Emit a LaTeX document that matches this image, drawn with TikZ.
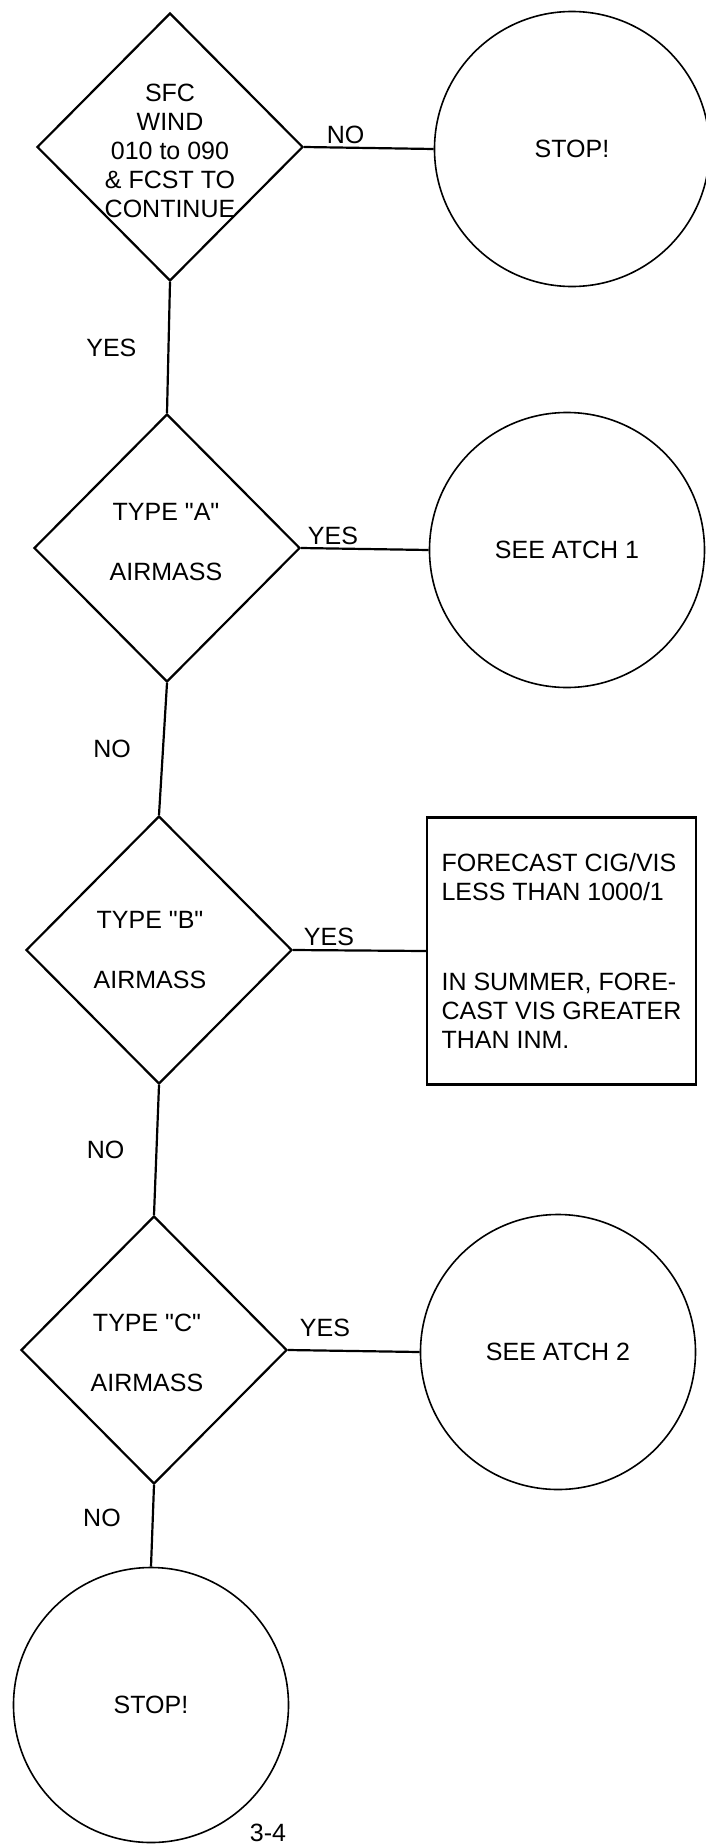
\documentclass[tikz,border=0pt]{standalone}
\usepackage{fontspec}
\setmainfont{Liberation Sans}
\usetikzlibrary{shapes.geometric}

\newcommand{\dq}{\textquotedbl}

\begin{document}
\begin{tikzpicture}[
    x=1pt, y=-1pt,
    font=\fontsize{25}{29}\selectfont,
    % Decision diamonds
    decision/.style={diamond, draw, line width=2.2pt, minimum width=266pt, minimum height=268pt, inner sep=0pt},
    % Terminal circles
    terminal/.style={circle, draw, line width=1.6pt, minimum size=275pt, inner sep=0pt},
    % Action box
    action/.style={rectangle, draw, line width=2.2pt, minimum width=269pt, minimum height=267pt, align=left, inner sep=0pt},
    % Text inside the diamonds
    question/.style={align=center, inner sep=0pt},
    % Connectors and their labels
    flow/.style={line width=2.2pt},
    answer/.style={inner sep=1pt},
]

\useasboundingbox (0,0) rectangle (706,1844);

% === DECISIONS ===
\node[decision] (q1) at (170,147) {};
\node[question] (q1-text) at (170,151) {SFC\\WIND\\010 to 090\\\& FCST TO\\CONTINUE};

\node[decision] (q2) at (167,548) {};
\node[question] (q2-text) at (166,542) {TYPE \dq A\dq\\[31pt]AIRMASS};

\node[decision] (q3) at (159,950) {};
\node[question] (q3-text) at (150,950) {TYPE \dq B\dq\\[31pt]AIRMASS};

\node[decision] (q4) at (154,1350) {};
\node[question] (q4-text) at (147,1353) {TYPE \dq C\dq\\[31pt]AIRMASS};

% === OUTCOMES ===
\node[terminal] (stop1) at (572,149) {STOP!};
\node[terminal] (atch1) at (567,550) {SEE ATCH 1};
\node[action] (fcst) at (561.5,951) {FORECAST CIG/VIS\\LESS THAN 1000/1\\[61pt]IN SUMMER, FORE-\\CAST VIS GREATER\\THAN INM.};
\node[terminal] (atch2) at (558,1352) {SEE ATCH 2};
\node[terminal] (stop2) at (151,1705) {STOP!};

% === CONNECTORS ===
\draw[flow] (q1.east) -- node[answer, above=2pt, pos=0.32] {NO} (stop1.west);
\draw[flow] (q1.south) -- node[answer, left=30pt] {YES} (q2.north);

\draw[flow] (q2.east) -- node[answer, above=2pt, pos=0.25] {YES} (atch1.west);
\draw[flow] (q2.south) -- node[answer, left=30pt] {NO} (q3.north);

\draw[flow] (q3.east) -- node[answer, above=2pt, pos=0.27] {YES} (fcst.west);
\draw[flow] (q3.south) -- node[answer, left=30pt] {NO} (q4.north);

\draw[flow] (q4.east) -- node[answer, above=12pt, pos=0.28] {YES} (atch2.west);
\draw[flow] (q4.south) -- node[answer, left=30pt, pos=0.4] {NO} (stop2.north);

% page number
\node[anchor=south, inner sep=0pt] (page) at (268,1842) {3-4};

\end{tikzpicture}
\end{document}
